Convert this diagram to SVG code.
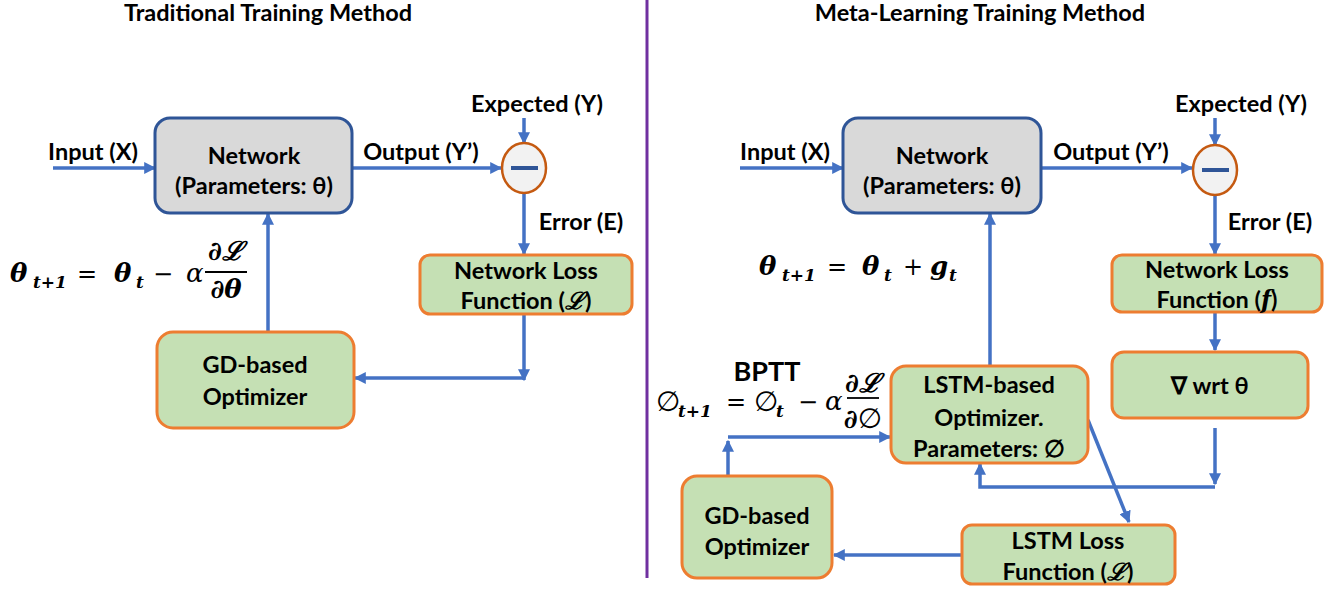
<svg xmlns="http://www.w3.org/2000/svg" width="1337" height="592" viewBox="0 0 1337 592">
<defs>
<style>
.t{font-family:Lato,"Liberation Sans",sans-serif;font-weight:700;font-size:23.5px;fill:#000}
.ttl{font-family:Lato,"Liberation Sans",sans-serif;font-weight:700;font-size:23.5px;fill:#000}
.m{font-family:"DejaVu Serif","Liberation Serif",serif;font-style:italic;font-weight:700;font-size:26px;fill:#000}
.ms{font-family:"DejaVu Serif","Liberation Serif",serif;font-style:italic;font-weight:700;font-size:17px;fill:#000}
.mo{font-family:"DejaVu Serif","Liberation Serif",serif;font-size:24px;fill:#000}
.ma{font-family:"DejaVu Serif","Liberation Serif",serif;font-style:italic;font-size:26px;fill:#000}
.me{font-family:"DejaVu Sans",sans-serif;font-size:28px;fill:#000}
.grey{fill:#D9D9D9;stroke:#2F5597;stroke-width:3}
.green{fill:#C5E0B4;stroke:#ED7D31;stroke-width:3}
.circ{fill:#F2F2F2;stroke:#C55A11;stroke-width:2.5}
.c{fill:none;stroke:#4472C4;stroke-width:3.5}
.a{marker-end:url(#ah)}
</style>
<marker id="ah" viewBox="0 0 10 10" refX="9" refY="5" markerWidth="12" markerHeight="12" markerUnits="userSpaceOnUse" orient="auto"><path d="M0,0 L10,5 L0,10 z" fill="#4472C4"/></marker>
</defs>
<rect width="1337" height="592" fill="#fff"/>
<line x1="647" y1="0" x2="647" y2="578" stroke="#7030A0" stroke-width="3"/>
<text class="ttl" x="268" y="21" text-anchor="middle">Traditional Training Method</text>
<text class="ttl" x="980" y="21" text-anchor="middle">Meta-Learning Training Method</text>

<g id="connectors">
<path class="c a" d="M53,168 H155"/>
<path class="c a" d="M352,168 H501"/>
<path class="c a" d="M524,118 V143"/>
<path class="c a" d="M524,193 V254"/>
<path class="c a" d="M524,314 V380"/>
<path class="c a" d="M524,378 H355"/>
<path class="c a" d="M268,332 V214"/>
<path class="c a" d="M740,168 H843"/>
<path class="c a" d="M1041,168 H1192"/>
<path class="c a" d="M1215,118 V145"/>
<path class="c a" d="M1215,195 V254"/>
<path class="c a" d="M1215,312 V350"/>
<path class="c a" d="M1215,428 V484"/>
<path class="c a" d="M1215,487 H980 V464"/>
<path class="c a" d="M990,366 V214"/>
<path class="c a" d="M728,476 V441"/>
<path class="c a" d="M728,437 H890"/>
<path class="c a" d="M1088,420 L1129,522"/>
<path class="c a" d="M962,555 H834"/>
</g>

<g id="lbls">
<text class="t" x="93" y="160" text-anchor="middle">Input (X)</text>
<text class="t" x="421" y="160" text-anchor="middle">Output (Y’)</text>
<text class="t" x="537" y="112" text-anchor="middle">Expected (Y)</text>
<text class="t" x="581" y="230" text-anchor="middle">Error (E)</text>
<text class="t" x="785" y="160" text-anchor="middle">Input (X)</text>
<text class="t" x="1111" y="160" text-anchor="middle">Output (Y’)</text>
<text class="t" x="1241" y="112" text-anchor="middle">Expected (Y)</text>
<text class="t" x="1270" y="230" text-anchor="middle">Error (E)</text>
<text x="767" y="381" text-anchor="middle" style="font-family:Lato,'Liberation Sans',sans-serif;font-weight:700;font-size:27px">BPTT</text>
</g>

<g id="netL">
<rect class="grey" x="155" y="118" width="197" height="95" rx="15"/>
<text class="t" x="254" y="164" text-anchor="middle">Network</text>
<text class="t" x="254" y="194" text-anchor="middle">(Parameters: θ)</text>
</g>
<g id="minusL">
<ellipse class="circ" cx="524" cy="168" rx="22" ry="25"/>
<line x1="511" y1="168" x2="538" y2="168" stroke="#2F5597" stroke-width="4"/>
</g>
<g id="lossL">
<rect class="green" x="420" y="255" width="212" height="59" rx="10"/>
<text class="t" x="526" y="279" text-anchor="middle">Network Loss</text>
<text class="t" x="526" y="309" text-anchor="middle">Function (<tspan font-family="DejaVu Serif,serif" font-style="italic">ℒ</tspan>)</text>
</g>
<g id="gdL">
<rect class="green" x="157" y="332" width="197" height="96" rx="16"/>
<text class="t" x="255" y="373" text-anchor="middle">GD-based</text>
<text class="t" x="255" y="405" text-anchor="middle">Optimizer</text>
</g>
<g id="eqL">
<text class="m" x="10" y="282">θ</text><text class="ms" x="33" y="288">t+1</text>
<text class="mo" x="77" y="282">=</text>
<text class="m" x="114" y="282">θ</text><text class="ms" x="136" y="288">t</text>
<text class="mo" x="153" y="282">−</text>
<text class="ma" x="186" y="282">α</text>
<text class="m" x="226" y="260" text-anchor="middle">∂ℒ</text>
<line x1="205" y1="272" x2="247" y2="272" stroke="#000" stroke-width="1.8"/>
<text class="m" x="226" y="298" text-anchor="middle">∂θ</text>
</g>

<g id="netR">
<rect class="grey" x="843" y="118" width="198" height="95" rx="15"/>
<text class="t" x="942" y="164" text-anchor="middle">Network</text>
<text class="t" x="942" y="194" text-anchor="middle">(Parameters: θ)</text>
</g>
<g id="minusR">
<ellipse class="circ" cx="1215" cy="170" rx="22" ry="25"/>
<line x1="1202" y1="170" x2="1229" y2="170" stroke="#2F5597" stroke-width="4"/>
</g>
<g id="lossR">
<rect class="green" x="1112" y="255" width="210" height="57" rx="10"/>
<text class="t" x="1217" y="278" text-anchor="middle">Network Loss</text>
<text class="t" x="1217" y="308" text-anchor="middle">Function (<tspan font-family="DejaVu Serif,serif" font-style="italic">f</tspan>)</text>
</g>
<g id="grad">
<rect class="green" x="1112" y="352" width="196" height="66" rx="12"/>
<text class="t" x="1210" y="394" text-anchor="middle">∇ wrt θ</text>
</g>
<g id="lstm">
<rect class="green" x="891" y="366" width="197" height="97" rx="15"/>
<text class="t" x="989" y="393" text-anchor="middle">LSTM-based</text>
<text class="t" x="989" y="426" text-anchor="middle">Optimizer.</text>
<text class="t" x="989" y="457" text-anchor="middle">Parameters: ∅</text>
</g>
<g id="gdR">
<rect class="green" x="682" y="476" width="150" height="102" rx="15"/>
<text class="t" x="757" y="524" text-anchor="middle">GD-based</text>
<text class="t" x="757" y="555" text-anchor="middle">Optimizer</text>
</g>
<g id="lstmLoss">
<rect class="green" x="962" y="525" width="213" height="59" rx="10"/>
<text class="t" x="1068" y="549" text-anchor="middle">LSTM Loss</text>
<text class="t" x="1068" y="580" text-anchor="middle">Function (<tspan font-family="DejaVu Serif,serif" font-style="italic">ℒ</tspan>)</text>
</g>
<g id="eqR1">
<text class="m" x="759" y="275">θ</text><text class="ms" x="782" y="281">t+1</text>
<text class="mo" x="827" y="275">=</text>
<text class="m" x="862" y="275">θ</text><text class="ms" x="884" y="281">t</text>
<text class="mo" x="903" y="275">+</text>
<text class="m" x="930" y="275">g</text><text class="ms" x="949" y="281">t</text>
</g>
<g id="eqR2">
<text class="me" x="656" y="411">∅</text><text class="ms" x="678" y="417">t+1</text>
<text class="mo" x="726" y="410">=</text>
<text class="me" x="754" y="411">∅</text><text class="ms" x="776" y="417">t</text>
<text class="mo" x="798" y="410">−</text>
<text class="ma" x="825" y="410">α</text>
<text x="863" y="392" text-anchor="middle"><tspan class="m">∂ℒ</tspan></text>
<line x1="847" y1="398" x2="879" y2="398" stroke="#000" stroke-width="1.8"/>
<text x="863" y="428" text-anchor="middle"><tspan class="m" font-size="24px">∂</tspan><tspan class="me" font-size="24px">∅</tspan></text>
</g>
</svg>
